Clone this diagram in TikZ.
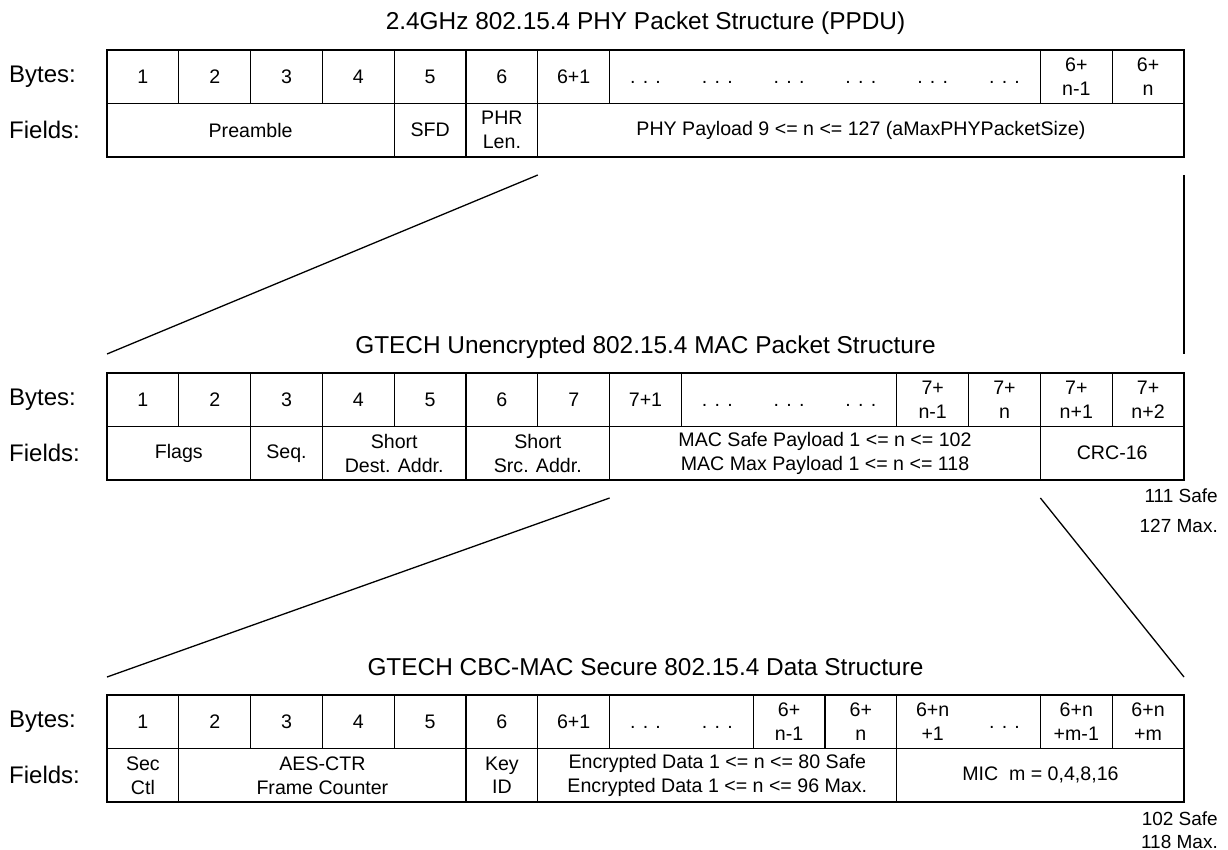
\documentclass[tikz,border=0pt]{standalone}
\usepackage{fontspec}
\setmainfont{Liberation Sans}

\begin{document}
\begin{tikzpicture}[x=1pt, y=-1pt,
    cell/.style={draw, line width=1.3pt, anchor=north west, minimum height=53.5pt, inner sep=0pt, outer sep=0pt, align=center, font=\fontsize{19.6}{24}\selectfont},
    txt/.style={inner sep=0pt, align=center, font=\fontsize{19.6}{24}\selectfont},
    dots/.style={inner sep=0pt, anchor=base, font=\fontsize{19.6}{24}\selectfont},
    title/.style={anchor=base, inner sep=0pt, font=\fontsize{24.4}{28}\selectfont},
    rowlabel/.style={anchor=west, inner sep=0pt, font=\fontsize{24}{28}\selectfont},
    note/.style={anchor=base east, inner sep=0pt, font=\fontsize{19}{24}\selectfont},
    link/.style={line width=1.3pt}]
    \useasboundingbox (0,0) rectangle (1228,850);

    % PHY packet
    \node[title] (phy-title) at (645.5,30) {2.4GHz 802.15.4 PHY Packet Structure (PPDU)};
    \node[rowlabel] (phy-lb) at (9,76.75) {Bytes:};
    \node[rowlabel] (phy-lf) at (9,130.25) {Fields:};
    \foreach \c/\n/\t in {1/1/1, 2/1/2, 3/1/3, 4/1/4, 5/1/5, 6/1/6, 7/1/6+1, 8/6/{}, 14/1/{6+\\n-1}, 15/1/{6+\\n}}
        \node[cell, minimum width=\n*71.8pt] (phy-b\c) at ({107+(\c-1)*71.8},50) {\t};
    \foreach \c in {8,...,13}
        \node[dots] (phy-d\c) at ({107+(\c-0.5)*71.8},83.75) {. . .};
    \foreach \c/\n/\t in {1/4/Preamble, 5/1/SFD, 6/1/{PHR\\Len.}, 7/9/{PHY Payload 9 <= n <= 127 (aMaxPHYPacketSize)}}
        \node[cell, minimum width=\n*71.8pt] (phy-f\c) at ({107+(\c-1)*71.8},103.5) {\t};

    % MAC packet
    \node[title] (mac-title) at (645.5,353) {GTECH Unencrypted 802.15.4 MAC Packet Structure};
    \node[rowlabel] (mac-lb) at (9,399.75) {Bytes:};
    \node[rowlabel] (mac-lf) at (9,453.25) {Fields:};
    \foreach \c/\n/\t in {1/1/1, 2/1/2, 3/1/3, 4/1/4, 5/1/5, 6/1/6, 7/1/7, 8/1/7+1, 9/3/{}, 12/1/{7+\\n-1}, 13/1/{7+\\n}, 14/1/{7+\\n+1}, 15/1/{7+\\n+2}}
        \node[cell, minimum width=\n*71.8pt] (mac-b\c) at ({107+(\c-1)*71.8},373) {\t};
    \foreach \c in {9,10,11}
        \node[dots] (mac-d\c) at ({107+(\c-0.5)*71.8},406.75) {. . .};
    \foreach \c/\n/\t in {1/2/Flags, 3/1/Seq., 4/2/{Short\\Dest. Addr.}, 6/2/{Short\\Src. Addr.}, 8/6/{MAC Safe Payload 1 <= n <= 102\\MAC Max Payload 1 <= n <= 118}, 14/2/CRC-16}
        \node[cell, minimum width=\n*71.8pt] (mac-f\c) at ({107+(\c-1)*71.8},426.5) {\t};
    \node[note] (mac-safe) at (1218,502) {111 Safe};
    \node[note] (mac-max) at (1218,532) {127 Max.};

    % secure data
    \node[title] (sec-title) at (645.5,675) {GTECH CBC-MAC Secure 802.15.4 Data Structure};
    \node[rowlabel] (sec-lb) at (9,721.75) {Bytes:};
    \node[rowlabel] (sec-lf) at (9,775.25) {Fields:};
    \foreach \c/\n/\t in {1/1/1, 2/1/2, 3/1/3, 4/1/4, 5/1/5, 6/1/6, 7/1/6+1, 8/2/{}, 10/1/{6+\\n-1}, 11/1/{6+\\n}, 12/2/{}, 14/1/{6+n\\+m-1}, 15/1/{6+n\\+m}}
        \node[cell, minimum width=\n*71.8pt] (sec-b\c) at ({107+(\c-1)*71.8},695) {\t};
    \foreach \c in {8,9,13}
        \node[dots] (sec-d\c) at ({107+(\c-0.5)*71.8},728.75) {. . .};
    \node[txt] (sec-n1) at ({107+11.5*71.8},721.75) {6+n\\+1};
    \foreach \c/\n/\t in {1/1/{Sec\\Ctl}, 2/4/{AES-CTR\\Frame Counter}, 6/1/{Key\\ID}, 7/5/{Encrypted Data 1 <= n <= 80 Safe\\Encrypted Data 1 <= n <= 96 Max.}, 12/4/{MIC\ \ m = 0,4,8,16}}
        \node[cell, minimum width=\n*71.8pt] (sec-f\c) at ({107+(\c-1)*71.8},748.5) {\t};
    \node[note] (sec-safe) at (1218,825) {102 Safe};
    \node[note] (sec-max) at (1218,848) {118 Max.};

    \draw[link] ([yshift=-18pt]phy-f7.south west) -- ([yshift=19pt]mac-b1.north west);
    \draw[link] ([yshift=-18pt]phy-f7.south east) -- ([yshift=19pt]mac-b15.north east);
    \draw[link] ([yshift=-18pt]mac-f8.south west) -- ([yshift=18pt]sec-b1.north west);
    \draw[link] ([yshift=-18pt]mac-f8.south east) -- ([yshift=18pt]sec-b15.north east);
\end{tikzpicture}
\end{document}
